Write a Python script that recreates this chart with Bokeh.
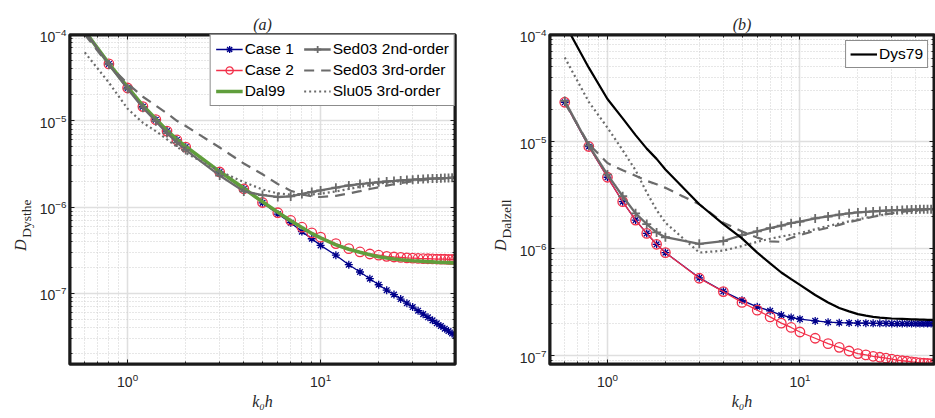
import math
from bokeh.plotting import figure
from bokeh.layouts import row
from bokeh.models import (FixedTicker, LogAxis, LogTickFormatter, Legend, Title,
                          LegendItem, Range1d, ColumnDataSource, CustomJSTickFormatter)
from bokeh.embed import file_html
from bokeh.resources import INLINE

# ---------------- data ----------------
kh = [0.6, 0.8, 1.0, 1.2, 1.4, 1.6, 1.8, 2.0, 3, 4, 5, 6, 7, 8, 9, 10,
      12, 14, 16, 18, 20, 22, 24, 26, 28, 30, 32, 34, 36, 38, 40, 42, 44, 46, 48, 50]

# panel (a): D_Dysthe
case1_a = [1.1e-4, 4.56e-5, 2.4e-5, 1.46e-5, 1.03e-5, 7.6e-6, 6.0e-6, 4.95e-6,
           2.55e-6, 1.62e-6, 1.12e-6, 8.3e-7, 6.6e-7, 5.2e-7, 4.3e-7, 3.6e-7,
           2.77e-7, 2.15e-7, 1.77e-7, 1.48e-7, 1.26e-7, 1.09e-7, 9.7e-8, 8.6e-8,
           7.7e-8, 6.95e-8, 6.3e-8, 5.75e-8, 5.28e-8, 4.87e-8, 4.5e-8, 4.19e-8,
           3.9e-8, 3.66e-8, 3.43e-8, 3.22e-8]
case2_a = [1.1e-4, 4.56e-5, 2.4e-5, 1.46e-5, 1.03e-5, 7.6e-6, 6.0e-6, 4.95e-6,
           2.55e-6, 1.63e-6, 1.13e-6, 8.6e-7, 7.0e-7, 5.85e-7, 5.03e-7, 4.48e-7,
           3.78e-7, 3.3e-7, 3.02e-7, 2.86e-7, 2.77e-7, 2.69e-7, 2.64e-7, 2.61e-7,
           2.58e-7, 2.56e-7, 2.54e-7, 2.53e-7, 2.52e-7, 2.51e-7, 2.5e-7, 2.49e-7,
           2.49e-7, 2.48e-7, 2.48e-7, 2.47e-7]
dal99_a = [1.1e-4, 4.6e-5, 2.45e-5, 1.5e-5, 1.05e-5, 7.7e-6, 6.1e-6, 5.05e-6,
           2.58e-6, 1.65e-6, 1.15e-6, 8.7e-7, 6.95e-7, 5.8e-7, 4.95e-7, 4.4e-7,
           3.65e-7, 3.25e-7, 3.0e-7, 2.8e-7, 2.66e-7, 2.57e-7, 2.5e-7, 2.45e-7,
           2.42e-7, 2.39e-7, 2.37e-7, 2.35e-7, 2.33e-7, 2.32e-7, 2.3e-7, 2.29e-7,
           2.28e-7, 2.27e-7, 2.26e-7, 2.25e-7]
sed2_a = [1.1e-4, 4.5e-5, 2.35e-5, 1.42e-5, 9.9e-6, 7.2e-6, 5.6e-6, 4.6e-6,
          2.32e-6, 1.52e-6, 1.38e-6, 1.31e-6, 1.33e-6, 1.42e-6, 1.5e-6, 1.56e-6,
          1.68e-6, 1.78e-6, 1.85e-6, 1.9e-6, 1.94e-6, 1.98e-6, 2.01e-6, 2.04e-6,
          2.06e-6, 2.08e-6, 2.1e-6, 2.11e-6, 2.13e-6, 2.14e-6, 2.15e-6, 2.16e-6,
          2.17e-6, 2.18e-6, 2.19e-6, 2.2e-6]
sed3_a = [1.0e-4, 4.4e-5, 2.7e-5, 1.9e-5, 1.5e-5, 1.22e-5, 1.0e-5, 8.7e-6,
          4.9e-6, 3.2e-6, 2.4e-6, 1.85e-6, 1.55e-6, 1.4e-6, 1.33e-6, 1.31e-6,
          1.35e-6, 1.44e-6, 1.53e-6, 1.62e-6, 1.7e-6, 1.77e-6, 1.84e-6, 1.9e-6,
          1.95e-6, 1.99e-6, 2.03e-6, 2.06e-6, 2.09e-6, 2.11e-6, 2.13e-6, 2.15e-6,
          2.16e-6, 2.17e-6, 2.18e-6, 2.19e-6]
slu05_a = [6.2e-5, 2.77e-5, 1.38e-5, 9.5e-6, 7.6e-6, 6.1e-6, 5.0e-6, 4.25e-6,
           2.6e-6, 1.95e-6, 1.6e-6, 1.44e-6, 1.39e-6, 1.38e-6, 1.4e-6, 1.43e-6,
           1.52e-6, 1.62e-6, 1.72e-6, 1.8e-6, 1.87e-6, 1.93e-6, 1.97e-6, 2.0e-6,
           2.03e-6, 2.06e-6, 2.08e-6, 2.1e-6, 2.11e-6, 2.13e-6, 2.14e-6, 2.15e-6,
           2.16e-6, 2.17e-6, 2.18e-6, 2.19e-6]

# panel (b): D_Dalzell
case1_b = [2.33e-5, 9.0e-6, 4.65e-6, 2.75e-6, 1.85e-6, 1.39e-6, 1.1e-6, 9.2e-7,
           5.35e-7, 4.0e-7, 3.3e-7, 2.87e-7, 2.63e-7, 2.4e-7, 2.28e-7, 2.2e-7,
           2.12e-7, 2.06e-7, 2.04e-7, 2.03e-7, 2.02e-7, 2.02e-7, 2.01e-7, 2.01e-7,
           2.01e-7, 2.0e-7, 2.0e-7, 2.0e-7, 2.0e-7, 2.0e-7, 2.0e-7, 2.0e-7,
           2.0e-7, 2.0e-7, 2.0e-7, 2.0e-7]
case2_b = [2.33e-5, 9.0e-6, 4.65e-6, 2.75e-6, 1.85e-6, 1.39e-6, 1.1e-6, 9.2e-7,
           5.3e-7, 3.98e-7, 3.15e-7, 2.67e-7, 2.31e-7, 2.02e-7, 1.84e-7, 1.67e-7,
           1.46e-7, 1.3e-7, 1.2e-7, 1.11e-7, 1.05e-7, 1.02e-7, 9.9e-8, 9.7e-8,
           9.5e-8, 9.3e-8, 9.1e-8, 9.0e-8, 8.9e-8, 8.8e-8, 8.7e-8, 8.6e-8,
           8.55e-8, 8.5e-8, 8.45e-8, 8.4e-8]
sed2_b = [2.4e-5, 9.2e-6, 4.92e-6, 3.09e-6, 2.14e-6, 1.7e-6, 1.42e-6, 1.28e-6,
          1.11e-6, 1.18e-6, 1.34e-6, 1.45e-6, 1.56e-6, 1.64e-6, 1.73e-6, 1.79e-6,
          1.92e-6, 2.0e-6, 2.08e-6, 2.14e-6, 2.18e-6, 2.21e-6, 2.23e-6, 2.25e-6,
          2.27e-6, 2.28e-6, 2.29e-6, 2.3e-6, 2.31e-6, 2.32e-6, 2.32e-6, 2.33e-6,
          2.33e-6, 2.34e-6, 2.34e-6, 2.35e-6]
sed3_b = [2.3e-5, 9.5e-6, 6.3e-6, 5.4e-6, 4.8e-6, 4.3e-6, 4.0e-6, 3.7e-6,
          2.6e-6, 1.75e-6, 1.45e-6, 1.27e-6, 1.17e-6, 1.16e-6, 1.26e-6, 1.34e-6,
          1.47e-6, 1.57e-6, 1.67e-6, 1.77e-6, 1.85e-6, 1.92e-6, 1.99e-6, 2.04e-6,
          2.1e-6, 2.14e-6, 2.18e-6, 2.21e-6, 2.24e-6, 2.26e-6, 2.28e-6, 2.3e-6,
          2.31e-6, 2.33e-6, 2.34e-6, 2.35e-6]
slu05_b = [6.1e-5, 2.35e-5, 1.35e-5, 8.3e-6, 5.4e-6, 3.35e-6, 2.3e-6, 1.75e-6,
           9.2e-7, 9.6e-7, 1.06e-6, 1.16e-6, 1.24e-6, 1.3e-6, 1.35e-6, 1.4e-6,
           1.52e-6, 1.63e-6, 1.72e-6, 1.8e-6, 1.88e-6, 1.94e-6, 2.0e-6, 2.05e-6,
           2.1e-6, 2.14e-6, 2.17e-6, 2.2e-6, 2.22e-6, 2.24e-6, 2.26e-6, 2.28e-6,
           2.29e-6, 2.31e-6, 2.32e-6, 2.33e-6]
dys79_b = [1.26e-4, 4.9e-5, 2.5e-5, 1.65e-5, 1.15e-5, 8.6e-6, 6.9e-6, 5.5e-6,
           2.6e-6, 1.7e-6, 1.25e-6, 9.2e-7, 7.3e-7, 6.0e-7, 5.2e-7, 4.6e-7,
           3.7e-7, 3.15e-7, 2.8e-7, 2.6e-7, 2.45e-7, 2.37e-7, 2.31e-7, 2.27e-7,
           2.25e-7, 2.23e-7, 2.22e-7, 2.21e-7, 2.2e-7, 2.19e-7, 2.19e-7, 2.18e-7,
           2.18e-7, 2.17e-7, 2.17e-7, 2.17e-7]

x_major = [1, 10]
x_minor = [0.6, 0.7, 0.8, 0.9, 2, 3, 4, 5, 6, 7, 8, 9, 20, 30, 40]
y_major = [1e-8, 1e-7, 1e-6, 1e-5, 1e-4]
y_minor = [m * 10.0 ** k for k in range(-8, -4) for m in range(2, 10)]

# ---------------- style ----------------
BLUE = "#00008b"
RED = "#f2304a"
GREEN = "#609e3c"
GRAY = "#6b6b6b"
AX = "#1a1a1a"
TXT = "#262626"
FW_L, FW_R, FH = 386, 385, 330
SERIF = "Liberation Serif"
NB = "\u00a0"
UP = math.pi / 2


def style_axis(ax, t, labels=True):
    ax.ticker = t
    ax.axis_line_color = AX
    ax.axis_line_width = 2
    ax.major_tick_in = 5
    ax.major_tick_out = 0
    ax.minor_tick_in = 3
    ax.minor_tick_out = 0
    ax.major_tick_line_color = AX
    ax.minor_tick_line_color = AX
    if labels:
        ax.formatter = LogTickFormatter()
        ax.major_label_text_font = "Liberation Sans"
        ax.major_label_text_font_size = "14px"
        ax.major_label_text_color = TXT


def make_fig(ylo, yhi, fw, bl, br, title, ylab):
    xr = Range1d(0.5, 50)
    yr = Range1d(ylo, yhi)
    p = figure(x_axis_type="log", y_axis_type="log", x_range=xr, y_range=yr,
               frame_width=fw, frame_height=FH,
               min_border_left=bl, min_border_right=br,
               min_border_top=34, min_border_bottom=52,
               output_backend="svg", toolbar_location=None,
               background_fill_color="white", border_fill_color="white")
    p.outline_line_color = AX
    p.outline_line_width = 2
    xt = FixedTicker(ticks=x_major, minor_ticks=x_minor)
    yt = FixedTicker(ticks=y_major, minor_ticks=y_minor)
    style_axis(p.xaxis[0], xt)
    style_axis(p.yaxis[0], yt)
    p.xaxis[0].major_label_standoff = 8
    p.yaxis[0].major_label_standoff = 3
    # x label
    xa = p.xaxis[0]
    xa.axis_label = "k\u2080h"
    xa.axis_label_text_font = SERIF
    xa.axis_label_text_font_style = "italic"
    xa.axis_label_text_font_size = "16px"
    xa.axis_label_text_color = TXT
    xa.axis_label_standoff = 3
    # y label: subscript part on the main axis
    ya = p.yaxis[0]
    ya.axis_label = NB * 4 + ylab
    ya.axis_label_orientation = UP
    ya.axis_label_text_font = SERIF
    ya.axis_label_text_font_style = "normal"
    ya.axis_label_text_font_size = "13.5px"
    ya.axis_label_text_color = TXT
    ya.axis_label_standoff = 10
    for g in (p.xgrid[0], p.ygrid[0]):
        g.grid_line_color = "#dfdfdf"
        g.grid_line_width = 1.6
        g.minor_grid_line_color = "#cfcfcf"
        g.minor_grid_line_dash = "1 2"
        g.minor_grid_line_width = 1
    # mirrored inward ticks on top and right (no labels)
    for place, t in (("above", xt), ("right", yt)):
        a = LogAxis(formatter=CustomJSTickFormatter(code="return ''"),
                    major_label_standoff=0, major_label_text_font_size="1px")
        style_axis(a, t, labels=False)
        p.add_layout(a, place)
    # y label: main symbol "D" on a bare outer axis
    da = LogAxis(ticker=yt, formatter=CustomJSTickFormatter(code="return ''"),
                 major_label_standoff=0, major_label_text_font_size="1px",
                 axis_line_color=None, major_tick_line_color=None,
                 minor_tick_line_color=None, major_tick_in=0, major_tick_out=0,
                 minor_tick_in=0, minor_tick_out=0,
                 axis_label="D" + NB * 10, axis_label_orientation=UP,
                 axis_label_text_font=SERIF, axis_label_text_font_style="italic",
                 axis_label_text_font_size="16px", axis_label_text_color=TXT,
                 axis_label_standoff=-12)
    p.add_layout(da, "left")
    # panel title
    p.title = Title(text=title, align="center", text_font=SERIF,
                    text_font_style="italic", text_font_size="16px",
                    text_color=TXT, standoff=3)
    return p, xr, yr


def frame_box(p, xr, yr):
    # box drawn along the plot frame (axis range limits)
    p.quad(left=[xr.start], right=[xr.end], bottom=[yr.start], top=[yr.end],
           fill_color=None, line_color=AX, line_width=4)


def legend_style(lg):
    lg.label_text_font = "Liberation Sans"
    lg.label_text_font_size = "15.5px"
    lg.label_text_color = "#000000"
    lg.border_line_color = AX
    lg.border_line_width = 1
    lg.background_fill_color = "white"
    lg.background_fill_alpha = 1.0
    lg.glyph_width = 27
    lg.glyph_height = 18
    lg.label_height = 18
    lg.label_standoff = 2
    lg.spacing = 3
    lg.padding = 4


# ---------------- panel (a) ----------------
pa, xra, yra = make_fig(1.5e-8, 1e-4, FW_L, 67, 4, "(a)", "Dysthe")
sa = ColumnDataSource(dict(kh=kh, c1=case1_a, c2=case2_a, dal=dal99_a,
                           s2=sed2_a, s3=sed3_a, slu=slu05_a))
l1 = pa.line("kh", "c1", source=sa, line_color=BLUE, line_width=1.3)
m1 = pa.scatter("kh", "c1", source=sa, marker="asterisk", size=8,
                line_color=BLUE, line_width=1.3)
l2 = pa.line("kh", "c2", source=sa, line_color=RED, line_width=1.3)
m2 = pa.scatter("kh", "c2", source=sa, marker="circle", size=9.5,
                fill_color=None, line_color=RED, line_width=1.3)
ld = pa.line("kh", "dal", source=sa, line_color=GREEN, line_width=3.6)
ls2 = pa.line("kh", "s2", source=sa, line_color=GRAY, line_width=2.3)
ms2 = pa.scatter("kh", "s2", source=sa, marker="cross", size=9,
                 line_color=GRAY, line_width=1.8)
ls3 = pa.line("kh", "s3", source=sa, line_color=GRAY, line_width=2.2,
              line_dash="10 7")
lsl = pa.line("kh", "slu", source=sa, line_color=GRAY, line_width=2.2,
              line_dash="2 3")
frame_box(pa, xra, yra)
lega = Legend(items=[LegendItem(label="Case 1", renderers=[l1, m1]),
                     LegendItem(label="Case 2", renderers=[l2, m2]),
                     LegendItem(label="Dal99", renderers=[ld]),
                     LegendItem(label="Sed03 2nd-order", renderers=[ls2, ms2]),
                     LegendItem(label="Sed03 3rd-order", renderers=[ls3]),
                     LegendItem(label="Slu05 3rd-order", renderers=[lsl])],
              location="top_right", orientation="vertical", ncols=2, margin=0)
legend_style(lega)
lega.label_width = 56
lega.padding = 5
pa.add_layout(lega)

# ---------------- panel (b) ----------------
pb, xrb, yrb = make_fig(8.3e-8, 1e-4, FW_R, 90, 1, "(b)", "Dalzell")
sb = ColumnDataSource(dict(kh=kh, c1=case1_b, c2=case2_b, s2=sed2_b,
                           s3=sed3_b, slu=slu05_b, dys=dys79_b))
pb.line("kh", "c1", source=sb, line_color=BLUE, line_width=1.3)
pb.scatter("kh", "c1", source=sb, marker="asterisk", size=8,
           line_color=BLUE, line_width=1.3)
pb.line("kh", "c2", source=sb, line_color=RED, line_width=1.3)
pb.scatter("kh", "c2", source=sb, marker="circle", size=9.5,
           fill_color=None, line_color=RED, line_width=1.3)
pb.line("kh", "s2", source=sb, line_color=GRAY, line_width=2.3)
pb.scatter("kh", "s2", source=sb, marker="cross", size=9,
           line_color=GRAY, line_width=1.8)
pb.line("kh", "s3", source=sb, line_color=GRAY, line_width=2.2, line_dash="10 7")
pb.line("kh", "slu", source=sb, line_color=GRAY, line_width=2.2, line_dash="2 3")
ldy = pb.line("kh", "dys", source=sb, line_color="black", line_width=2.2)
frame_box(pb, xrb, yrb)
legb = Legend(items=[LegendItem(label="Dys79", renderers=[ldy])],
              location="top_right", orientation="vertical", margin=6)
legend_style(legb)
pb.add_layout(legb)

layout = row(pa, pb)
open("out.html", "w").write(file_html(layout, INLINE))
